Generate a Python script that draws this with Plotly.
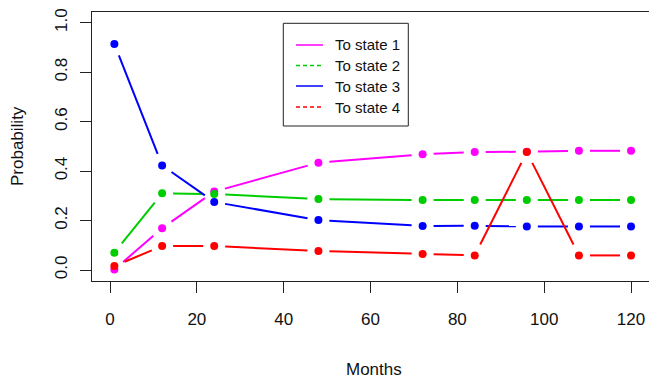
import math
import plotly.graph_objects as go

# ---- data ----
months = [1, 12, 24, 48, 72, 84, 96, 108, 120]
to_state1 = [0.002, 0.169, 0.317, 0.434, 0.468, 0.477, 0.478, 0.482, 0.482]
to_state2 = [0.070, 0.310, 0.307, 0.287, 0.283, 0.283, 0.283, 0.283, 0.283]
to_state3 = [0.914, 0.423, 0.275, 0.202, 0.178, 0.179, 0.176, 0.176, 0.176]
to_state4 = [0.016, 0.097, 0.097, 0.077, 0.065, 0.059, 0.477, 0.059, 0.059]
series_names = ["To state 1", "To state 2", "To state 3", "To state 4"]
series_colors = ["#FF00FF", "#00CD00", "#0000FF", "#FF0000"]
legend_dash = [None, "4px,3px", None, "4px,3px"]
x_ticks = [0, 20, 40, 60, 80, 100, 120]
y_ticks = [0.0, 0.2, 0.4, 0.6, 0.8, 1.0]

# ---- layout geometry (page pixels; body margin removed by post_script) ----
W, H = 649, 383
PLOT_LEFT, PLOT_TOP, PLOT_BOTTOM = 92, 12, 281
PW = W - PLOT_LEFT
PH = PLOT_BOTTOM - PLOT_TOP
L, T, R = PLOT_LEFT, PLOT_TOP, 0
B = H - T - PH
XR = [-4.15, 124.14]
YR = [-0.0445, 1.0433]
sx = PW / (XR[1] - XR[0])
sy = PH / (YR[1] - YR[0])
GX, GY = 11.0, 12.5  # type="b" gap around points (px)


def gapped(xs, ys):
    ox, oy = [], []
    for i in range(len(xs) - 1):
        x0, y0, x1, y1 = xs[i], ys[i], xs[i + 1], ys[i + 1]
        dx, dy = (x1 - x0) * sx, (y1 - y0) * sy
        d = math.sqrt((dx / GX) ** 2 + (dy / GY) ** 2)
        if d == 0:
            continue
        f = 1.0 / d
        if f >= 0.5:
            continue
        ox += [x0 + f * (x1 - x0), x1 - f * (x1 - x0), None]
        oy += [y0 + f * (y1 - y0), y1 - f * (y1 - y0), None]
    return ox, oy


def px2paper(px, py):
    return (px - PLOT_LEFT) / PW, (PLOT_BOTTOM - py) / PH


fig = go.Figure()
all_series = [to_state1, to_state2, to_state3, to_state4]
for vals, name, col in zip(all_series, series_names, series_colors):
    lx, ly = gapped(months, vals)
    fig.add_trace(go.Scatter(x=lx, y=ly, mode="lines", line=dict(color=col, width=2),
                             showlegend=False, hoverinfo="skip", name=name))
    fig.add_trace(go.Scatter(x=months, y=vals, mode="markers",
                             marker=dict(color=col, size=8, line=dict(width=0)),
                             showlegend=False, name=name))

font = "Liberation Sans, Arial, sans-serif"
shapes = []
annotations = []

# legend box
bx0, by0 = px2paper(283.3, 126)
bx1, by1 = px2paper(408.3, 23.3)
shapes.append(dict(type="rect", xref="paper", yref="paper", x0=bx0, y0=by0, x1=bx1, y1=by1,
                   line=dict(color="#222222", width=1), fillcolor="white", layer="above"))
row_y = [45, 65.5, 86, 107]
for name, col, dash, ry in zip(series_names, series_colors, legend_dash, row_y):
    lx0, ly = px2paper(296, ry)
    lx1, _ = px2paper(323, ry)
    ln = dict(color=col, width=1.5)
    if dash:
        ln["dash"] = dash
    shapes.append(dict(type="line", xref="paper", yref="paper", x0=lx0, x1=lx1, y0=ly, y1=ly,
                       line=ln, layer="above"))
    tx, ty = px2paper(333, ry)
    annotations.append(dict(text=name, xref="paper", yref="paper", x=tx, y=ty,
                            xanchor="left", yanchor="middle", showarrow=False,
                            font=dict(family=font, size=15, color="#111111")))

# axis titles
mx, my = px2paper(374, 369)
annotations.append(dict(text="Months", xref="paper", yref="paper", x=mx, y=my,
                        xanchor="center", yanchor="middle", showarrow=False,
                        font=dict(family=font, size=17, color="#111111")))
pxx, pyy = px2paper(17, 146)
annotations.append(dict(text="Probability", xref="paper", yref="paper", x=pxx, y=pyy,
                        xanchor="center", yanchor="middle", showarrow=False, textangle=-90,
                        font=dict(family=font, size=17, color="#111111")))

fig.update_layout(
    width=W, height=H,
    margin=dict(l=L, r=R, t=T, b=B, pad=0),
    paper_bgcolor="white", plot_bgcolor="white",
    shapes=shapes, annotations=annotations,
    font=dict(family=font, size=17, color="#111111"),
    xaxis=dict(range=XR, tickvals=x_ticks, ticktext=[str(v) for v in x_ticks],
               showgrid=False, zeroline=False, showline=True, linecolor="#222222", linewidth=1,
               mirror=True, ticks="outside", ticklen=11, tickcolor="#222222",
               ticklabelstandoff=12, tickfont=dict(family=font, size=17, color="#111111")),
    yaxis=dict(range=YR, tickvals=y_ticks, ticktext=["%.1f" % v for v in y_ticks],
               showgrid=False, zeroline=False, showline=True, linecolor="#222222", linewidth=1,
               ticks="outside", ticklen=11, tickcolor="#222222", tickangle=-90,
               ticklabelstandoff=6, tickfont=dict(family=font, size=17, color="#111111")),
)

fig.write_html(
    "out.html",
    config={"displayModeBar": False},
    post_script="document.body.style.margin='0';document.body.style.overflow='hidden';",
)
